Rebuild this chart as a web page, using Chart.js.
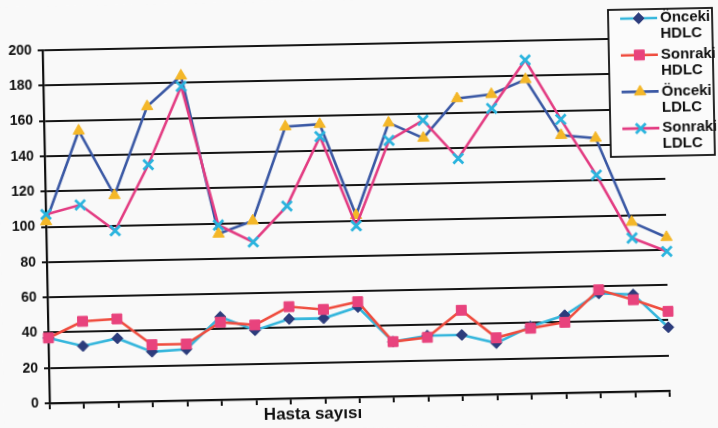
<!DOCTYPE html>
<html>
<head>
<meta charset="utf-8">
<script src="https://cdn.jsdelivr.net/npm/chart.js@4/dist/chart.umd.min.js"></script>
<style>
  html, body { margin: 0; padding: 0; background: #f9f9f9; overflow: hidden; }
  #wrap { width: 718px; height: 428px; transform: rotate(-1.15deg); transform-origin: 50% 50%; }
  canvas { display: block; }
</style>
</head>
<body>
<div id="wrap"><canvas id="c" width="718" height="428"></canvas></div>
<script>
// Patients (one point per patient)
const patients = ['1','2','3','4','5','6','7','8','9','10','11','12','13','14','15','16','17','18','19'];

// HDL cholesterol before / after
const onceHDLC  = [37, 32, 36, 28, 29, 47, 39, 45, 45, 51, 31, 34, 34, 29, 38, 44, 56, 55, 36];
const sonraHDLC = [37, 46, 47, 32, 32, 44, 42, 52, 50, 54, 31, 33, 48, 32, 37, 40, 58, 52, 45];

// LDL cholesterol before / after
const onceLDLC  = [103, 154, 117, 167, 184, 94, 101, 154, 155, 103, 155, 146, 168, 170, 178, 146, 144, 96, 87];
const sonraLDLC = [107, 112, 97, 134, 178, 99, 89, 109, 148, 97, 145, 156, 134, 162, 189, 155, 123, 87, 79];

// Legend labels (two lines each)
const seriesNames = [['Önceki', 'HDLC'], ['Sonraki', 'HDLC'], ['Önceki', 'LDLC'], ['Sonraki', 'LDLC']];

// Value axis
const yMin = 0, yMax = 200, yStep = 20;
const xTitle = 'Hasta sayısı';

const FONT = '"Liberation Sans", Arial, sans-serif';
const INK = '#111111';

const paperBg = {
  id: 'paperBg',
  beforeDraw(chart) {
    const ctx = chart.ctx;
    ctx.save();
    ctx.fillStyle = '#f9f9f9';
    ctx.fillRect(0, 0, chart.width, chart.height);
    ctx.restore();
  }
};

// Axis title under the category axis
const axisTitle = {
  id: 'axisTitle',
  afterDraw(chart, args, opts) {
    const ctx = chart.ctx, a = chart.chartArea;
    ctx.save();
    ctx.font = 'bold 17px ' + FONT;
    ctx.fillStyle = INK;
    ctx.textAlign = 'center';
    ctx.textBaseline = 'middle';
    ctx.fillText(opts.text, a.left + opts.dx, a.bottom + opts.dy);
    ctx.restore();
  }
};

// Boxed legend with line + marker samples and two-line labels
const boxLegend = {
  id: 'boxLegend',
  afterDraw(chart, args, o) {
    const ctx = chart.ctx;
    ctx.save();
    ctx.fillStyle = '#fbfbfb';
    ctx.fillRect(o.x, o.y, o.w, o.h);
    ctx.strokeStyle = INK;
    ctx.lineWidth = 1.8;
    ctx.strokeRect(o.x, o.y, o.w, o.h);
    chart.data.datasets.forEach((ds, i) => {
      const y = o.y + o.first + i * o.step;
      ctx.strokeStyle = ds.borderColor;
      ctx.lineWidth = ds.borderWidth;
      ctx.beginPath();
      ctx.moveTo(o.x + o.lineFrom, y);
      ctx.lineTo(o.x + o.lineTo, y);
      ctx.stroke();
      ctx.fillStyle = ds.pointBackgroundColor;
      ctx.strokeStyle = ds.pointBorderColor;
      ctx.lineWidth = ds.pointBorderWidth;
      Chart.helpers.drawPoint(ctx, {
        pointStyle: ds.pointStyle, radius: ds.pointRadius,
        borderWidth: ds.pointBorderWidth, rotation: 0
      }, o.x + (o.lineFrom + o.lineTo) / 2, y);
      ctx.fillStyle = INK;
      ctx.font = 'bold 15px ' + FONT;
      ctx.textAlign = 'left';
      ctx.textBaseline = 'middle';
      const lines = seriesNames[i];
      lines.forEach((t, k) => ctx.fillText(t, o.x + o.textX, y + k * o.lineGap));
    });
    ctx.restore();
  }
};

new Chart(document.getElementById('c'), {
  type: 'line',
  data: {
    labels: patients,
    datasets: [
      {
        label: seriesNames[0].join(' '), data: onceHDLC, order: 3,
        borderColor: '#35b6dc', borderWidth: 2.6,
        pointStyle: 'rectRot', pointRadius: 5.5, pointHoverRadius: 5.5,
        pointBackgroundColor: '#2c3c7c', pointBorderColor: '#2c3c7c', pointBorderWidth: 1
      },
      {
        label: seriesNames[1].join(' '), data: sonraHDLC, order: 2,
        borderColor: '#ef4c3e', borderWidth: 2.6,
        pointStyle: 'rect', pointRadius: 7, pointHoverRadius: 7,
        pointBackgroundColor: '#e8437d', pointBorderColor: '#e8437d', pointBorderWidth: 1
      },
      {
        label: seriesNames[2].join(' '), data: onceLDLC, order: 1,
        borderColor: '#3a58a4', borderWidth: 2.6,
        pointStyle: 'triangle', pointRadius: 6.5, pointHoverRadius: 6.5,
        pointBackgroundColor: '#f4b728', pointBorderColor: '#f4b728', pointBorderWidth: 1
      },
      {
        label: seriesNames[3].join(' '), data: sonraLDLC, order: 0,
        borderColor: '#e33c82', borderWidth: 2.6,
        pointStyle: 'crossRot', pointRadius: 7, pointHoverRadius: 7,
        pointBackgroundColor: '#2ab4de', pointBorderColor: '#2ab4de', pointBorderWidth: 2.8
      }
    ]
  },
  options: {
    responsive: false,
    animation: false,
    events: [],
    layout: { padding: { left: 0, top: 44, right: 52, bottom: 0 } },
    elements: { line: { tension: 0 } },
    datasets: { line: { clip: false } },
    plugins: {
      legend: { display: false },
      tooltip: { enabled: false },
      axisTitle: { text: xTitle, dx: 263, dy: 16 },
      boxLegend: {
        x: 612, y: 15, w: 104, h: 147,
        first: 9, step: 36.7, lineGap: 16,
        lineFrom: 12, lineTo: 49, textX: 52
      }
    },
    scales: {
      x: {
        afterFit(scale) { scale.height = 31; },
        ticks: { display: false },
        grid: { drawOnChartArea: false, drawTicks: true, tickLength: 6, color: INK, lineWidth: 2 },
        border: { display: true, color: INK, width: 2.2 }
      },
      y: {
        min: yMin, max: yMax,
        afterFit(scale) { scale.width = 46; },
        ticks: { stepSize: yStep, color: INK, padding: 6, font: { family: FONT, size: 14, weight: 'bold' } },
        grid: { color: '#151515', lineWidth: 2, drawTicks: true, tickLength: 5 },
        border: { display: true, color: INK, width: 2.2 }
      }
    }
  },
  plugins: [paperBg, axisTitle, boxLegend]
});
</script>
</body>
</html>
